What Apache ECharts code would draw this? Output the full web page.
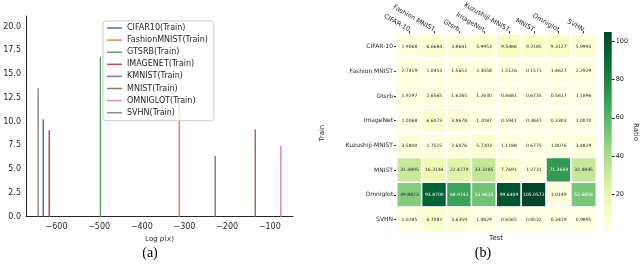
<!DOCTYPE html>
<html><head><meta charset="utf-8">
<script src="https://cdn.jsdelivr.net/npm/echarts@6/dist/echarts.min.js"></script>
<style>html,body{margin:0;padding:0;background:#fff}#c{width:640px;height:267px}</style>
</head><body><div id="c"></div><script>
// ---- Panel (a) data ----
const logpNames = ['CIFAR10(Train)','FashionMNIST(Train)','GTSRB(Train)','IMAGENET(Train)','KMNIST(Train)','MNIST(Train)','OMNIGLOT(Train)','SVHN(Train)'];
const logpPositions = [-631, -312, -497, -617, -228, -134, -74, -643];
const logpHeights = [10.25, 12.0, 16.8, 9.1, 6.4, 9.2, 7.45, 13.5];
const logpColors = ['#4c72b0','#dd8452','#55a868','#c44e52','#8172b3','#937860','#da8bc3','#8c8c8c'];
const logpXTicks = [-600, -500, -400, -300, -200, -100];
const logpYTicks = [0, 2.5, 5, 7.5, 10, 12.5, 15, 17.5, 20];

// ---- Panel (b) data ----
const testLabels = ['CIFAR-10','Fashion MNIST','Gtsrb','ImageNet','Kuzushiji-MNIST','MNIST','Omniglot','SVHN'];
const trainLabels = ['CIFAR-10','Fashion MNIST','Gtsrb','ImageNet','Kuzushiji-MNIST','MNIST','Omniglot','SVHN'];
const rowCifar10  = [1.9068, 6.6684, 3.8641, 5.9953, 9.5486, 9.2185, 9.3127, 5.9993];
const rowFashion  = [2.7419, 1.0453, 1.5652, 2.3058, 1.5126, 0.1571, 1.4627, 2.2929];
const rowGtsrb    = [1.9297, 2.6565, 1.6285, 1.2630, 0.6681, 0.6735, 0.5617, 1.1896];
const rowImageNet = [1.0068, 6.6073, 3.8678, 1.2087, 0.5941, 0.3847, 0.3303, 1.0070];
const rowKuzushiji= [3.5800, 1.7515, 2.6076, 5.7303, 1.1188, 0.6775, 1.8076, 3.4829];
const rowMnist    = [31.4895, 16.3144, 22.4279, 33.3285, 7.7691, 1.2731, 71.3644, 32.4845];
const rowOmniglot = [49.8823, 93.8700, 68.9742, 53.8623, 99.6409, 105.0572, 3.0149, 52.6858];
const rowSvhn     = [1.0285, 6.7082, 3.6359, 1.0829, 0.6565, 0.8532, 0.3419, 0.9895];
const ratioRows = [rowCifar10,rowFashion,rowGtsrb,rowImageNet,rowKuzushiji,rowMnist,rowOmniglot,rowSvhn];
const cbarTicks = [20, 40, 60, 80, 100];

const ylgn = ['#ffffe5','#f7fcb9','#d9f0a3','#addd8e','#78c679','#41ab5d','#238443','#006837','#004529'];
const allVals = ratioRows.flat();
const vMin = Math.min(...allVals), vMax = Math.max(...allVals);

const txt = '#262626';
const font = 'DejaVu Sans';
const minus = v => v < 0 ? '\u2212' + Math.abs(v) : String(v);

const series = [];
logpNames.forEach((n, i) => {
  series.push({
    name: n, type: 'line', xAxisIndex: 0, yAxisIndex: 0,
    data: [[logpPositions[i], 0], [logpPositions[i], logpHeights[i]]],
    symbol: 'none', lineStyle: { width: 1.5, color: logpColors[i] },
    itemStyle: { color: logpColors[i] }, silent: true, z: 2
  });
});
const hmData = [];
ratioRows.forEach((row, i) => row.forEach((v, j) => {
  hmData.push({ value: [j, i, v], label: { color: v > 51 ? '#ffffff' : txt } });
}));
series.push({
  type: 'heatmap', xAxisIndex: 1, yAxisIndex: 1, data: hmData,
  itemStyle: { borderColor: '#ffffff', borderWidth: 1.5 },
  label: { show: true, fontSize: 4.5, fontFamily: font, formatter: p => p.value[2].toFixed(4) },
  emphasis: { disabled: true }, silent: true
});
const heatIdx = series.length - 1;
series.push({
  type: 'bar', xAxisIndex: 2, yAxisIndex: 2, data: [vMax], barWidth: '100%', silent: true,
  itemStyle: { color: new echarts.graphic.LinearGradient(0, 1, 0, 0,
    ylgn.map((c, k) => ({ offset: k / (ylgn.length - 1), color: c }))) }
});

const option = {
  backgroundColor: '#ffffff',
  animation: false,
  textStyle: { fontFamily: font },
  grid: [
    { left: 26, top: 16, width: 267, height: 200.7 },
    { left: 397, top: 32, width: 199, height: 200 },
    { left: 604, top: 32, width: 11, height: 200 }
  ],
  legend: {
    data: logpNames, orient: 'vertical', left: 103, top: 21,
    icon: 'rect', itemWidth: 15, itemHeight: 1.5, itemGap: 4.1,
    textStyle: { fontSize: 8, color: txt, fontFamily: font },
    backgroundColor: 'rgba(255,255,255,0.8)', borderColor: '#cccccc', borderWidth: 1, borderRadius: 3,
    padding: [3, 6, 4, 4], selectedMode: false
  },
  xAxis: [
    { gridIndex: 0, type: 'value', min: -671.5, max: -45.5,
      axisLine: { show: true, onZero: false, lineStyle: { color: txt, width: 1 } },
      axisTick: { show: false }, splitLine: { show: false },
      axisLabel: { customValues: logpXTicks, formatter: v => minus(v), fontSize: 8, color: txt, margin: 6 },
      name: 'Log {i|p}({i|x})', nameLocation: 'middle', nameGap: 17,
      nameTextStyle: { fontSize: 7, color: txt, rich: { i: { fontStyle: 'italic', fontSize: 7, color: txt } } } },
    { gridIndex: 1, type: 'category', data: testLabels, position: 'top',
      axisLine: { show: false }, splitLine: { show: false },
      axisTick: { show: true, alignWithLabel: true, length: 3, lineStyle: { color: txt } },
      axisLabel: { rotate: 30, fontSize: 6.5, color: txt, margin: 4, interval: 0 } },
    { gridIndex: 2, type: 'category', data: [''], show: false }
  ],
  yAxis: [
    { gridIndex: 0, type: 'value', min: 0, max: 21.1,
      axisLine: { show: true, lineStyle: { color: txt, width: 1 } },
      axisTick: { show: false }, splitLine: { show: false },
      axisLabel: { customValues: logpYTicks, formatter: v => v.toFixed(1), fontSize: 8, color: txt, margin: 5 } },
    { gridIndex: 1, type: 'category', data: trainLabels, inverse: true,
      axisLine: { show: false }, splitLine: { show: false },
      axisTick: { show: true, alignWithLabel: true, length: 3, lineStyle: { color: txt } },
      axisLabel: { fontSize: 6, color: txt, margin: 4, interval: 0 },
      name: 'Train', nameLocation: 'middle', nameGap: 71, nameRotate: 90,
      nameTextStyle: { fontSize: 7, color: txt } },
    { gridIndex: 2, type: 'value', min: 0, max: vMax, position: 'right',
      axisLine: { show: false }, splitLine: { show: false },
      axisTick: { show: true, customValues: cbarTicks, length: 3, lineStyle: { color: txt } },
      axisLabel: { customValues: cbarTicks, fontSize: 6.5, color: txt, margin: 4 },
      name: 'Ratio', nameLocation: 'middle', nameRotate: -90, nameGap: 20,
      nameTextStyle: { fontSize: 7, color: txt } }
  ],
  visualMap: { show: false, type: 'continuous', min: vMin, max: vMax, seriesIndex: heatIdx,
    inRange: { color: ylgn } },
  graphic: [
    { type: 'text', x: 150, y: 253, style: { text: '(a)', font: '14px "Liberation Serif"', fill: '#000', textAlign: 'center', textVerticalAlign: 'middle' } },
    { type: 'text', x: 483, y: 253, style: { text: '(b)', font: '14px "Liberation Serif"', fill: '#000', textAlign: 'center', textVerticalAlign: 'middle' } },
    { type: 'text', x: 496, y: 238, style: { text: 'Test', font: '7px "DejaVu Sans"', fill: txt, textAlign: 'center', textVerticalAlign: 'middle' } }
  ],
  series: series
};
const chart = echarts.init(document.getElementById('c'), null, { renderer: 'canvas' });
chart.setOption(option);
</script></body></html>
